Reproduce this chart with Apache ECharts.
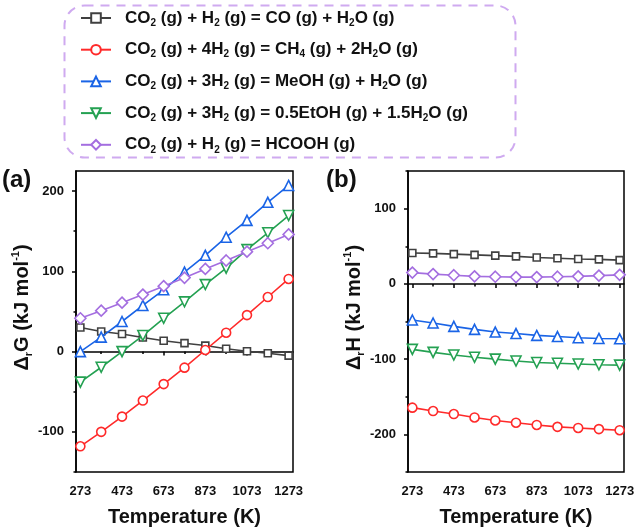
<!DOCTYPE html>
<html><head><meta charset="utf-8">
<script src="https://cdn.jsdelivr.net/npm/echarts@6/dist/echarts.min.js"></script>
<style>html,body{margin:0;padding:0;background:#fff}#c{width:638px;height:532px}</style>
</head><body><div id="c"></div>
<script>
var temps = [273, 373, 473, 573, 673, 773, 873, 973, 1073, 1173, 1273];
var majorTicksX = [273, 473, 673, 873, 1073, 1273];
var minorTicksX = [373, 573, 773, 973, 1173];
var majorTicksYa = [-100, 0, 100, 200];
var minorTicksYa = [-150, -50, 50, 150];
var majorTicksYb = [-200, -100, 0, 100];
var minorTicksYb = [-250, -150, -50, 50, 150];

var reactionNames = [
  'CO{s|2} (g) + H{s|2} (g) = CO (g) + H{s|2}O (g)',
  'CO{s|2} (g) + 4H{s|2} (g) = CH{s|4} (g) + 2H{s|2}O (g)',
  'CO{s|2} (g) + 3H{s|2} (g) = MeOH (g) + H{s|2}O (g)',
  'CO{s|2} (g) + 3H{s|2} (g) = 0.5EtOH (g) + 1.5H{s|2}O (g)',
  'CO{s|2} (g) + H{s|2} (g) = HCOOH (g)'
];

// Panel (a): ΔrG
var gCO    = [30, 25, 22, 17.5, 13.5, 10.5, 7.5, 3.5, 0.5, -2, -5];
var gCH4   = [-118, -100, -81, -61, -40.5, -20, 2, 23.5, 45.5, 68, 90.5];
var gMeOH  = [0, 18, 37.5, 57.5, 77, 99, 120, 142.5, 163.5, 186, 207];
var gEtOH  = [-38, -19.5, 0, 20, 41.5, 62, 83.5, 104, 127, 148, 169.5];
var gHCOOH = [41.5, 51, 61, 71, 81.5, 92, 103, 113.5, 124.5, 135, 146];

// Panel (b): ΔrH
var hCO    = [41, 40.5, 39.5, 38.5, 37.5, 36.5, 35, 34, 33, 32.5, 31.5];
var hCH4   = [-164.5, -169, -173, -177.5, -181.5, -184.5, -187.5, -190, -191.5, -193, -194.5];
var hMeOH  = [-48, -52, -56.5, -60.5, -64, -66, -68.5, -70, -71.5, -72.5, -73];
var hEtOH  = [-87, -91, -94.5, -97.5, -100, -102.5, -104.5, -105.5, -106.5, -107.5, -108];
var hHCOOH = [15, 13, 11.5, 10, 9.5, 9, 9, 9.5, 10, 11, 12];

var colors = ['#404040', '#ff2a2a', '#1a64e6', '#24a152', '#a46ee0'];
var symbols = ['rect', 'circle', 'triangle', 'path://M0,0 L10,0 L5,8.66 Z', 'diamond'];
var symbolSizes = [7, 9, 10, 10, 11];

var FONT = '"Liberation Sans", Arial, Helvetica, sans-serif';

function pairs(vals) { return temps.map(function (t, i) { return [t, vals[i]]; }); }

function mkSeries(idx, vals, axisIdx) {
  return {
    type: 'line', name: reactionNames[idx], xAxisIndex: axisIdx, yAxisIndex: axisIdx,
    data: pairs(vals), symbol: symbols[idx], symbolSize: symbolSizes[idx],
    showSymbol: true, animation: false, z: 3 + idx,
    lineStyle: { color: colors[idx], width: 1.6 },
    itemStyle: { color: '#ffffff', borderColor: colors[idx], borderWidth: 1.6 },
    emphasis: { disabled: true }
  };
}

var labelStyle = { fontFamily: FONT, fontWeight: 'bold', fontSize: 13, color: '#111', formatter: function (v) { return String(v); } };

function xMain(grid) {
  return {
    type: 'value', gridIndex: grid, min: 252, max: 1294, position: 'bottom',
    name: 'Temperature (K)', nameLocation: 'middle', nameGap: 35,
    nameTextStyle: { fontFamily: FONT, fontWeight: 'bold', fontSize: 20, color: '#111' },
    axisLine: { show: true, lineStyle: { color: '#000', width: 1.5 } },
    axisTick: { show: true, inside: false, length: 4, customValues: majorTicksX, lineStyle: { color: '#000', width: 1.5 } },
    axisLabel: Object.assign({ margin: 13, customValues: majorTicksX }, labelStyle),
    splitLine: { show: false }
  };
}
function xMinor(grid) {
  return {
    type: 'value', gridIndex: grid, min: 252, max: 1294, position: 'bottom',
    axisLine: { show: false },
    axisTick: { show: true, inside: false, length: 2.5, customValues: minorTicksX, lineStyle: { color: '#000', width: 1.5 } },
    axisLabel: { show: false }, splitLine: { show: false }
  };
}
var nameRich = {
  s: { fontFamily: FONT, fontWeight: 'bold', fontSize: 11, verticalAlign: 'bottom', lineHeight: 11, color: '#111' },
  p: { fontFamily: FONT, fontWeight: 'bold', fontSize: 11, verticalAlign: 'top', lineHeight: 11, color: '#111' }
};
function yMain(grid, min, max, ticks, name, gap) {
  return {
    type: 'value', gridIndex: grid, min: min, max: max, position: 'left',
    name: name, nameLocation: 'middle', nameRotate: 90, nameGap: gap,
    nameTextStyle: { fontFamily: FONT, fontWeight: 'bold', fontSize: 20, lineHeight: 24, color: '#111', padding: [0, 0, 0, 28], rich: nameRich },
    axisLine: { show: true, lineStyle: { color: '#000', width: 1.5 } },
    axisTick: { show: true, inside: false, length: 4, customValues: ticks, lineStyle: { color: '#000', width: 1.5 } },
    axisLabel: Object.assign({ margin: 12, customValues: ticks }, labelStyle),
    splitLine: { show: false }
  };
}
function yMinor(grid, min, max, ticks) {
  return {
    type: 'value', gridIndex: grid, min: min, max: max, position: 'left',
    axisLine: { show: false },
    axisTick: { show: true, inside: false, length: 2.5, customValues: ticks, lineStyle: { color: '#000', width: 1.5 } },
    axisLabel: { show: false }, splitLine: { show: false }
  };
}

var chart = echarts.init(document.getElementById('c'), null, { renderer: 'canvas' });
var series = [];
[gCO, gCH4, gMeOH, gEtOH, gHCOOH].forEach(function (v, i) { series.push(mkSeries(i, v, 0)); });
[hCO, hCH4, hMeOH, hEtOH, hHCOOH].forEach(function (v, i) { series.push(mkSeries(i, v, 1)); });
// dummy series to bind minor axes
series.push({ type: 'line', xAxisIndex: 2, yAxisIndex: 2, data: [], silent: true });
series.push({ type: 'line', xAxisIndex: 3, yAxisIndex: 3, data: [], silent: true });

chart.setOption({
  animation: false,
  backgroundColor: '#ffffff',
  grid: [
    { left: 76, top: 171, width: 217, height: 302, show: true, borderColor: '#000', borderWidth: 1.5, backgroundColor: 'transparent' },
    { left: 408, top: 171, width: 216, height: 302, show: true, borderColor: '#000', borderWidth: 1.5, backgroundColor: 'transparent' }
  ],
  xAxis: [xMain(0), xMain(1), xMinor(0), xMinor(1)],
  yAxis: [
    yMain(0, -150, 225, majorTicksYa, '\u0394{s|r}G (kJ mol{p|-1})', 38),
    yMain(1, -250, 150, majorTicksYb, '\u0394{s|r}H (kJ mol{p|-1})', 40),
    yMinor(0, -150, 225, minorTicksYa),
    yMinor(1, -250, 150, minorTicksYb)
  ],
  legend: {
    orient: 'vertical', left: 80, top: 8, padding: 0,
    itemWidth: 30, itemHeight: 12, itemGap: 11.7,
    data: reactionNames,
    formatter: function (n) { return n; },
    textStyle: {
      fontFamily: FONT, fontWeight: 'bold', fontSize: 17, lineHeight: 20, color: '#111', padding: [0, 0, 0, 9],
      rich: { s: { fontFamily: FONT, fontWeight: 'bold', fontSize: 10, lineHeight: 10, verticalAlign: 'bottom', color: '#111' } }
    },
    selectedMode: false
  },
  graphic: [
    { type: 'rect', left: 62, top: 3, shape: { width: 451, height: 152, r: 20 }, silent: true,
      style: { fill: 'none', stroke: '#cfaaf0', lineWidth: 2, lineDash: [9, 7] } },
    { type: 'text', left: 2, top: 168, silent: true,
      style: { text: '(a)', font: 'bold 24px ' + FONT, fill: '#111' } },
    { type: 'text', left: 326, top: 168, silent: true,
      style: { text: '(b)', font: 'bold 24px ' + FONT, fill: '#111' } }
  ],
  series: series
});
</script></body></html>
